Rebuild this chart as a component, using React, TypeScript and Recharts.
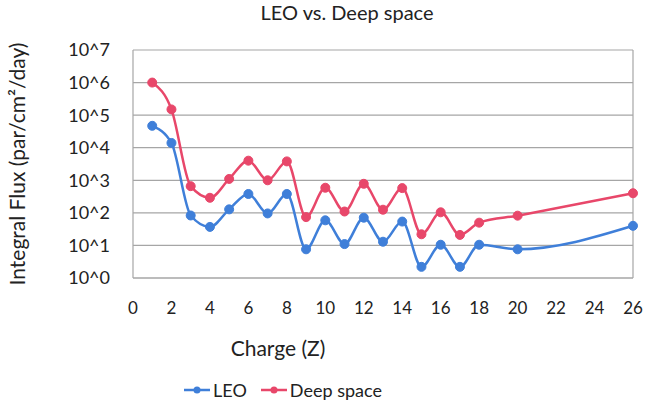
import {
    CartesianGrid,
    Legend,
    Line,
    LineChart,
    ReferenceLine,
    XAxis,
    YAxis
} from "recharts";

const charges = [1, 2, 3, 4, 5, 6, 7, 8, 9, 10, 11, 12, 13, 14, 15, 16, 17, 18, 20, 26];
const leoFlux = [47000, 14000, 83, 37, 128, 380, 96, 380, 7.6, 59, 11, 71, 13, 54, 2.2, 10.5, 2.2, 10.5, 7.6, 40];
const deepFlux = [1000000, 150000, 660, 290, 1100, 4000, 1000, 3800, 74, 590, 110, 780, 125, 575, 22, 104, 21, 50, 82, 400];

const xTicks = [0, 2, 4, 6, 8, 10, 12, 14, 16, 18, 20, 22, 24, 26];
const yTicks = [1, 10, 100, 1000, 10000, 100000, 1000000, 10000000];

const BLUE = "#3f7fd9";
const PINK = "#e8476a";
const FONT = "Lato, 'Open Sans', sans-serif";

const data = charges.map((z, i) => ({z, leo: leoFlux[i], deep: deepFlux[i]}));

const legendItems = [
    {name: "LEO", color: BLUE},
    {name: "Deep space", color: PINK},
];

function LegendContent() {
    return (
        <div style={{display: "flex", justifyContent: "center", gap: 14, fontFamily: FONT, fontSize: 18, color: "#222"}}>
            {legendItems.map(item => (
                <div key={item.name} style={{display: "flex", alignItems: "center", gap: 3}}>
                    <svg width={26} height={10}>
                        <line x1={0} y1={5} x2={26} y2={5} stroke={item.color} strokeWidth={2.5}/>
                        <circle cx={13} cy={5} r={3.5} fill={item.color}/>
                    </svg>
                    <span>{item.name}</span>
                </div>
            ))}
        </div>
    );
}

export default function App() {

    return (
        <div style={{position: "absolute", left: 0, top: 0, width: 645, height: 406, background: "#fff"}}>
            <div style={{position: "absolute", top: 0, left: 0, width: 694, textAlign: "center", fontFamily: FONT, fontSize: 20, color: "#222"}}>
                LEO vs. Deep space
            </div>

            <LineChart
                width={645}
                height={406}
                data={data}
                margin={{top: 50, right: 12, left: 0, bottom: 34}}
            >
                <CartesianGrid vertical={false} stroke="#a6a6a6" strokeWidth={1.2}/>

                <XAxis
                    dataKey="z"
                    type="number"
                    domain={[0, 26]}
                    ticks={xTicks}
                    interval={0}
                    tickLine={false}
                    axisLine={{stroke: "#a6a6a6", strokeWidth: 1.2}}
                    tick={{fill: "#222", fontSize: 17, fontFamily: FONT}}
                    tickMargin={18}
                    height={72}
                    label={{value: "Charge (Z)", position: "insideBottom", offset: -6, dx: -105, fill: "#222", fontSize: 21, fontFamily: FONT}}
                />

                <YAxis
                    scale="log"
                    domain={[1, 10000000]}
                    ticks={yTicks}
                    interval={0}
                    allowDataOverflow
                    width={133}
                    tickLine={false}
                    axisLine={{stroke: "#a6a6a6", strokeWidth: 1.2}}
                    tick={{fill: "#222", fontSize: 18, fontFamily: FONT}}
                    tickMargin={17}
                    tickFormatter={(v: number) => `10^${Math.round(Math.log10(v))}`}
                    label={{
                        value: "Integral Flux (par/cm²/day)",
                        angle: -90,
                        position: "insideLeft",
                        offset: 18,
                        fill: "#222",
                        fontSize: 21,
                        fontFamily: FONT,
                        style: {textAnchor: "middle"}
                    }}
                />

                <ReferenceLine x={26} stroke="#a6a6a6" strokeWidth={1.2}/>

                <Line
                    dataKey="leo"
                    name="LEO"
                    type="monotone"
                    stroke={BLUE}
                    strokeWidth={2.5}
                    dot={{r: 4.5, fill: BLUE, stroke: BLUE, strokeWidth: 1}}
                    isAnimationActive={false}
                />

                <Line
                    dataKey="deep"
                    name="Deep space"
                    type="monotone"
                    stroke={PINK}
                    strokeWidth={2.5}
                    dot={{r: 4.5, fill: PINK, stroke: PINK, strokeWidth: 1}}
                    isAnimationActive={false}
                />

                <Legend
                    content={<LegendContent/>}
                    wrapperStyle={{top: 379, left: 0, width: 566}}
                />
            </LineChart>
        </div>
    );
}
